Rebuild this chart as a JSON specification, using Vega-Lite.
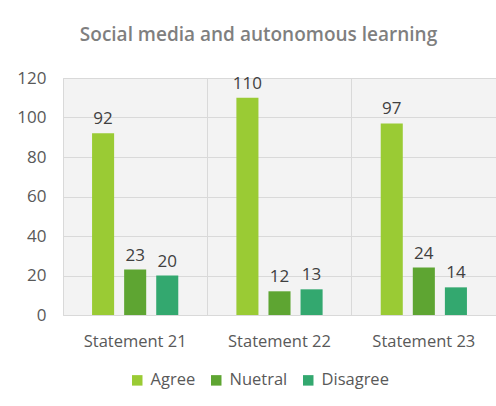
{
  "$schema": "https://vega.github.io/schema/vega-lite/v6.json",
  "width": 433,
  "height": 237,
  "autosize": {"type": "none"},
  "padding": {"left": 63, "top": 78, "right": 0, "bottom": 91},
  "background": "white",
  "title": {
    "text": "Social media and autonomous learning",
    "font": "Open Sans",
    "fontSize": 19,
    "fontWeight": 600,
    "color": "#7f7f7f",
    "anchor": "middle",
    "dx": -21,
    "offset": 24
  },
  "data": {
    "values": [
      {"statement": "Statement 21", "response": "Agree", "count": 92},
      {"statement": "Statement 21", "response": "Nuetral", "count": 23},
      {"statement": "Statement 21", "response": "Disagree", "count": 20},
      {"statement": "Statement 22", "response": "Agree", "count": 110},
      {"statement": "Statement 22", "response": "Nuetral", "count": 12},
      {"statement": "Statement 22", "response": "Disagree", "count": 13},
      {"statement": "Statement 23", "response": "Agree", "count": 97},
      {"statement": "Statement 23", "response": "Nuetral", "count": 24},
      {"statement": "Statement 23", "response": "Disagree", "count": 14}
    ]
  },
  "encoding": {
    "x": {
      "field": "statement",
      "type": "nominal",
      "scale": {"paddingInner": 0, "paddingOuter": 0},
      "axis": {
        "title": null,
        "labelAngle": 0,
        "labelFont": "Open Sans",
        "labelFontSize": 16.5,
        "labelColor": "#595959",
        "labelPadding": 18,
        "ticks": false,
        "domain": false,
        "grid": true,
        "bandPosition": 0,
        "gridColor": "#d9d9d9"
      }
    },
    "xOffset": {
      "field": "response",
      "type": "nominal",
      "sort": ["Agree", "Nuetral", "Disagree"],
      "scale": {"paddingInner": 0.3125, "paddingOuter": 0.906}
    },
    "y": {
      "field": "count",
      "type": "quantitative",
      "scale": {"domain": [0, 120]},
      "axis": {
        "title": null,
        "values": [0, 20, 40, 60, 80, 100, 120],
        "labelFont": "Open Sans",
        "labelFontSize": 17,
        "labelColor": "#595959",
        "labelPadding": 17,
        "ticks": false,
        "domain": false,
        "gridColor": "#d9d9d9"
      }
    }
  },
  "layer": [
    {
      "mark": {"type": "bar"},
      "encoding": {
        "color": {
          "field": "response",
          "type": "nominal",
          "sort": ["Agree", "Nuetral", "Disagree"],
          "scale": {
            "domain": ["Agree", "Nuetral", "Disagree"],
            "range": ["#9acb34", "#5ea532", "#33a86f"]
          },
          "legend": {
            "title": null,
            "orient": "none",
            "legendX": 66,
            "legendY": 294,
            "direction": "horizontal",
            "symbolType": "square",
            "symbolSize": 110,
            "symbolStrokeWidth": 0,
            "labelOffset": 5,
            "labelFont": "Open Sans",
            "labelFontSize": 16.5,
            "labelColor": "#595959",
            "columnPadding": 12
          }
        }
      }
    },
    {
      "mark": {
        "type": "text",
        "baseline": "bottom",
        "dy": -5,
        "font": "Open Sans",
        "fontSize": 17,
        "color": "#404040"
      },
      "encoding": {
        "text": {"field": "count", "type": "quantitative"}
      }
    }
  ],
  "config": {
    "view": {"fill": "#f3f3f3", "stroke": "#d9d9d9"}
  }
}
